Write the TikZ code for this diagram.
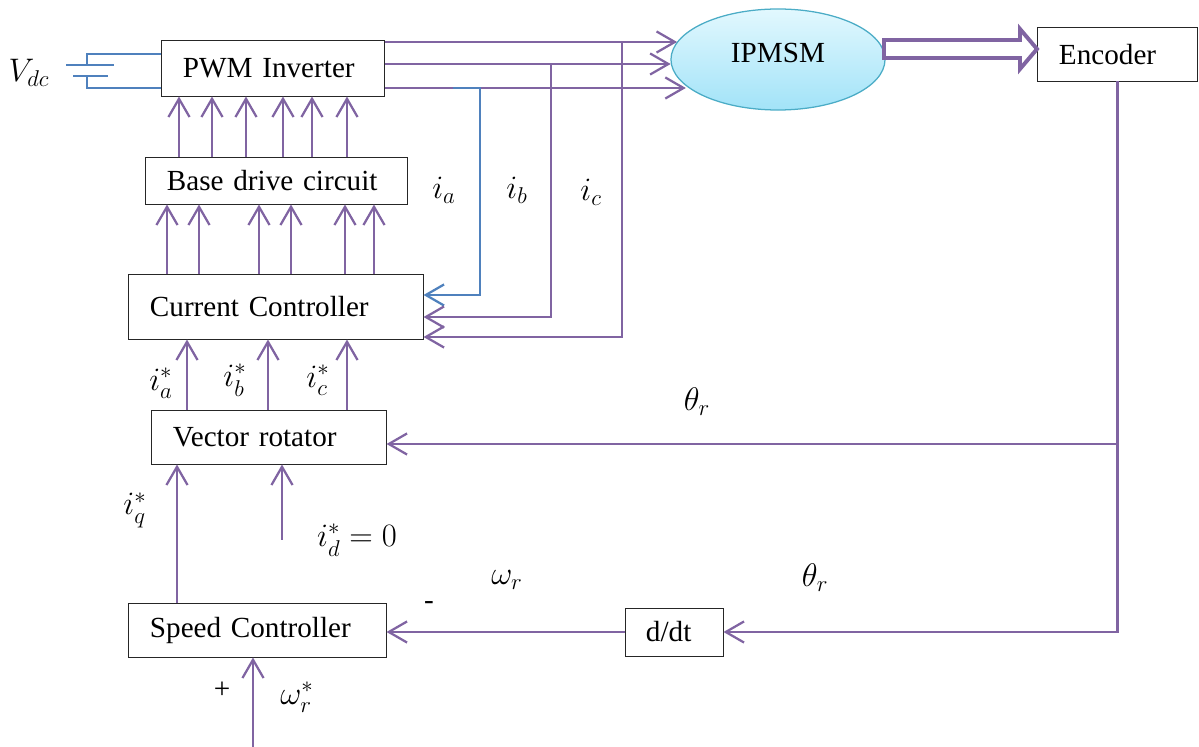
\RequirePackage{fix-cm}
\documentclass[tikz,border=0pt]{standalone}
\usepackage{amsmath}
\usepackage{fontspec}
\setmainfont{Liberation Serif}
\usetikzlibrary{arrows.meta,shapes.geometric,calc}

\definecolor{wirepurple}{HTML}{8064A2}
\definecolor{wireblue}{HTML}{4F81BD}
\definecolor{motoredge}{HTML}{4BACC6}
\definecolor{motortop}{HTML}{E2F8FE}
\definecolor{motorbottom}{HTML}{A2E3F8}

\tikzset{
    blk/.style={draw=black!85, line width=0.7pt, align=left, inner xsep=0.525cm, inner ysep=0pt},
    motor/.style={ellipse, draw=motoredge, line width=0.9pt, top color=motortop, bottom color=motorbottom,
        minimum width=5.35cm, minimum height=2.525cm, inner sep=0pt, text depth=10pt},
    lbl/.style={font=\fontsize{23.2}{28}\selectfont},
    wire/.style={draw=wirepurple, line width=1.6pt},
    sig/.style={wire, -{Straight Barb[length=13pt,width=15pt]}},
    bat/.style={draw=wireblue, line width=1.3pt},
}

\begin{document}
\begin{tikzpicture}[x=0.025cm, y=-0.025cm, font=\fontsize{20.74}{25}\selectfont]
    \useasboundingbox (0,0) rectangle (1199,747);

    \node[blk, text width=4.5cm, minimum height=1.375cm] (pwm) at (273,68.5) {PWM Inverter};
    \node[blk, text width=5.475cm, minimum height=1.15cm] (base) at (276.5,181) {Base drive circuit};
    \node[blk, text width=6.3cm, minimum height=1.6cm] (cc) at (276,307) {Current Controller};
    \node[blk, text width=4.8cm, minimum height=1.325cm] (vr) at (269,437.5) {Vector rotator};
    \node[blk, text width=5.375cm, minimum height=1.35cm] (sc) at (257.5,630) {Speed Controller};
    \node[blk, text width=2.925cm, minimum height=1.325cm] (enc) at (1117.5,54.5) {Encoder};
    \node[blk, text width=1.4cm, minimum height=1.2cm] (ddt) at (674,632) {d/dt};
    \node[motor] (ipm) at (778,59.5) {IPMSM};

    \draw[bat] (pwm.west |- 0,54) -| (87,65);
    \draw[bat] (66,65) -- (114,65);
    \draw[bat] (73,76) -- (108,76);
    \draw[bat] (87,76) |- (pwm.west |- 0,88);
    \node[lbl] (vdc) at (29,73) {$V_{dc}$};

    \coordinate (o1) at (pwm.east |- 0,42);
    \coordinate (o2) at (pwm.east |- 0,64);
    \coordinate (o3) at (pwm.east |- 0,88);
    \draw[sig] (o1) -- (o1 -| ipm.170);
    \draw[sig] (o2) -- (o2 -| ipm.182);
    \draw[sig] (o3) -- (o3 -| ipm.196);

    \coordinate (ta) at (480,88);
    \coordinate (tb) at (551,64);
    \coordinate (tc) at (622,42);
    \draw[sig, draw=wireblue] ($(ta)+(-27,0)$) -- (ta) |- (cc.east |- 0,295);
    \draw[sig] (tb) |- (cc.east |- 0,317);
    \draw[sig] (tc) |- (cc.east |- 0,337);
    \node[lbl] (ia) at (444,190) {$i_a$};
    \node[lbl] (ib) at (517,190) {$i_b$};
    \node[lbl] (ic) at (591,192) {$i_c$};

    \foreach \x in {179,212,246,283,312,347}
        \draw[sig] (\x,0 |- base.north) -- (\x,0 |- pwm.south);
    \foreach \x in {167,199,259,291,345,374}
        \draw[sig] (\x,0 |- cc.north) -- (\x,0 |- base.south);
    \foreach \x in {187,268,347}
        \draw[sig] (\x,0 |- vr.north) -- (\x,0 |- cc.south);
    \node[lbl] (ias) at (161,383) {$i_a^*$};
    \node[lbl] (ibs) at (235,380) {$i_b^*$};
    \node[lbl] (ics) at (318,380) {$i_c^*$};

    \draw[draw=wirepurple, fill=white, line width=2.8pt, line join=miter]
        (884,40) -- (1020,40) -- (1020,29) -- (1037,49) -- (1020,69) -- (1020,58) -- (884,58) -- cycle;

    \draw[sig] (enc.south) |- (ddt.east);
    \draw[sig] (enc.south |- 0,444) -- (vr.east |- 0,444);
    \draw[sig] (ddt.west) -- (ddt.west -| sc.east);
    \node[lbl] (th1) at (697,402) {$\theta_r$};
    \node[lbl] (th2) at (815,578) {$\theta_r$};
    \node[lbl] (wr) at (507,580) {$\omega_r$};
    \node (minus) at (429,606) {-};

    \draw[sig] (177,0 |- sc.north) -- (177,0 |- vr.south);
    \coordinate (idin) at (282,540);
    \draw[sig] (idin) -- (idin |- vr.south);
    \node[lbl] (iqs) at (135,510) {$i_q^*$};
    \node[lbl] (ids) at (357,540) {$i_d^* = 0$};

    \coordinate (wrin) at (253,747);
    \draw[sig] (wrin) -- (wrin |- sc.south);
    \node (plus) at (222,690) {+};
    \node[lbl] (wrs) at (297,697) {$\omega_r^*$};
\end{tikzpicture}
\end{document}
